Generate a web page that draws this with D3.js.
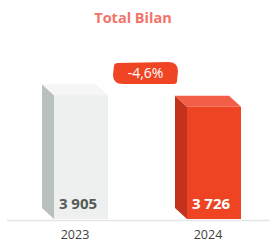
<!DOCTYPE html>
<html>
<head>
<meta charset="utf-8">
<script src="https://cdn.jsdelivr.net/npm/d3@7.9.0/dist/d3.min.js"></script>
<style>
  body { margin: 0; background: #fff; }
  svg { display: block; font-family: "Open Sans", sans-serif; }
</style>
</head>
<body>
<svg id="chart" width="274" height="243"></svg>
<script>
// chart data
const years = ["2023", "2024"];
const totals = [3905, 3726];
const valueLabels = ["3 905", "3 726"];
const changeLabel = "-4,6%";
const title = "Total Bilan";

const svg = d3.select("#chart");

// scales
const x = d3.scalePoint().domain(years).range([81, 214]);
const y = d3.scaleLinear().domain([2000, 4000]).range([219, 89]);

const frontW = 54, depthX = 12, depthY = 11;

// colour sets: front, side, top, label
const palette = {
    "2023": { front: "#eef0ef", side: "#b9c1be", top: "#f5f6f5", label: "#555a58" },
    "2024": { front: "#ee4423", side: "#c2321c", top: "#f25f48", label: "#ffffff" }
};

// baseline
svg.append("line")
    .attr("x1", 7).attr("x2", 270)
    .attr("y1", 220.5).attr("y2", 220.5)
    .attr("stroke", "#e5e7e6")
    .attr("stroke-width", 1.5);

// title
svg.append("text")
    .attr("x", 133).attr("y", 23)
    .attr("text-anchor", "middle")
    .attr("font-size", 14.5)
    .attr("font-weight", 700)
    .attr("fill", "#f2736a")
    .text(title);

// 3d bars
years.forEach((yr, i) => {
    const c = palette[yr];
    const x0 = x(yr) - frontW / 2, x1 = x(yr) + frontW / 2;
    const yt = y(totals[i]), yb = y.range()[0];
    const g = svg.append("g");

    // side face
    g.append("path")
        .attr("d", `M${x0 - depthX},${yt - depthY} L${x0},${yt} L${x0},${yb} L${x0 - depthX},${yb - depthY} Z`)
        .attr("fill", c.side);
    // top face
    g.append("path")
        .attr("d", `M${x0 - depthX},${yt - depthY} L${x1 - depthX},${yt - depthY} L${x1},${yt} L${x0},${yt} Z`)
        .attr("fill", c.top);
    // front face
    g.append("rect")
        .attr("x", x0).attr("y", yt)
        .attr("width", frontW).attr("height", yb - yt)
        .attr("fill", c.front);

    // value
    g.append("text")
        .attr("x", x(yr) - 3).attr("y", yb - 10)
        .attr("text-anchor", "middle")
        .attr("font-size", 15)
        .attr("font-weight", 700)
        .attr("fill", c.label)
        .text(valueLabels[i]);

    // year
    g.append("text")
        .attr("x", x(yr) - depthX / 2).attr("y", 239)
        .attr("text-anchor", "middle")
        .attr("font-size", 12.5)
        .attr("fill", "#3f3f3f")
        .text(yr);
});

// change badge (leaf shaped tag)
const bx0 = 113, bx1 = 178, by0 = 62, by1 = 84;
svg.append("path")
    .attr("d", `M${bx0 + 5},${by0 + 1}
        L${bx1 - 10},${by0}
        Q${bx1},${by0} ${bx1},${by0 + 9}
        L${bx1 - 1},${by1 - 3}
        Q${bx1 - 1},${by1} ${bx1 - 4},${by1}
        L${bx0 + 10},${by1}
        Q${bx0},${by1} ${bx0},${by1 - 9}
        L${bx0 + 1},${by0 + 4}
        Q${bx0 + 1},${by0 + 1} ${bx0 + 5},${by0 + 1} Z`)
    .attr("fill", "#f04524");

svg.append("text")
    .attr("x", (bx0 + bx1) / 2).attr("y", 78)
    .attr("text-anchor", "middle")
    .attr("font-size", 14)
    .attr("fill", "#ffffff")
    .text(changeLabel);
</script>
</body>
</html>
